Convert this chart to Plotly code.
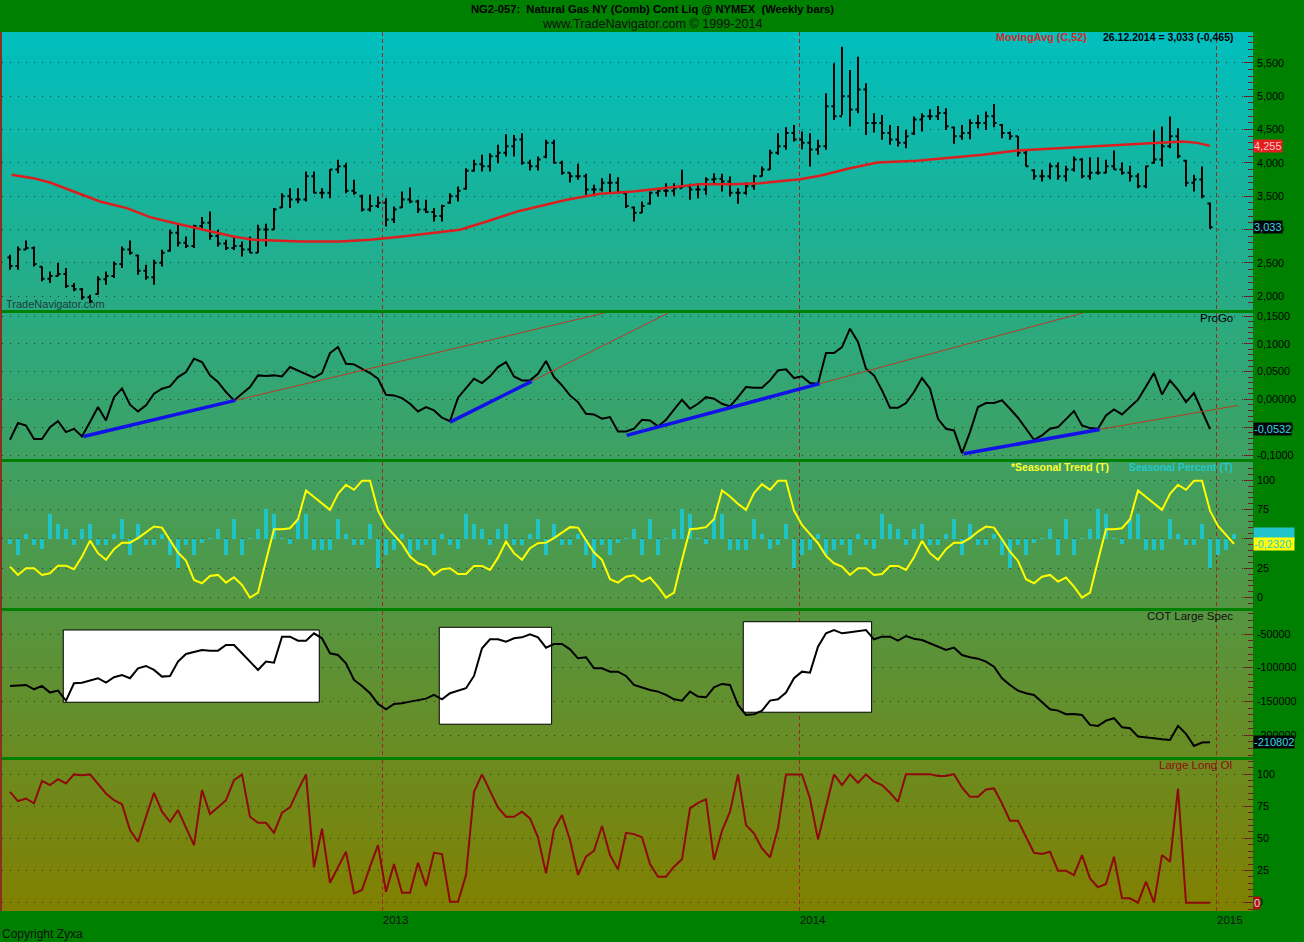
import plotly.graph_objects as go
from datetime import datetime, timedelta

# ---------------- data ----------------
FIRST_WEEK = datetime(2012, 2, 10)   # first weekly bar; last bar = 26.12.2014

highs = [2620,2745,2835,2745,2445,2370,2495,2420,2195,2120,
         2020,2295,2370,2520,2745,2835,2620,2470,2545,2695,
         2995,3070,2895,3070,3185,3270,2995,2845,2895,2820,
         2895,3070,3085,3320,3545,3620,3620,3870,3870,3620,
         3905,4045,3995,3745,3520,3520,3495,3470,3345,3570,
         3630,3445,3445,3320,3370,3545,3645,3920,4045,4120,
         4145,4270,4430,4420,4445,4045,4095,4345,4345,4030,
         3855,3985,3835,3670,3770,3835,3785,3555,3345,3420,
         3570,3620,3695,3695,3895,3685,3695,3785,3845,3835,
         3795,3620,3705,3820,3945,4195,4445,4535,4570,4470,
         4445,4345,5045,5495,5745,5395,5595,5195,4745,4720,
         4570,4555,4495,4695,4745,4805,4855,4820,4545,4570,
         4655,4720,4770,4885,4585,4470,4405,4195,3905,3895,
         3995,4005,3955,4095,4070,4085,4085,4045,4185,4005,
         3955,3845,3955,4485,4545,4695,4520,4045,3820,3945,
         3405]
lows = [2395,2395,2695,2445,2220,2195,2295,2120,2070,1945,
        1895,2020,2170,2270,2420,2620,2320,2245,2170,2445,
        2670,2745,2720,2720,2995,2845,2745,2690,2690,2595,
        2645,2645,2745,2995,3320,3320,3395,3420,3545,3470,
        3470,3845,3545,3520,3270,3270,3320,3045,3095,3320,
        3395,3245,3245,3120,3120,3385,3420,3595,3870,3870,
        3870,3995,4095,4095,3970,3885,3885,4070,3985,3820,
        3705,3745,3520,3520,3570,3535,3555,3320,3120,3245,
        3370,3495,3495,3505,3620,3445,3470,3520,3670,3570,
        3495,3385,3520,3595,3795,3895,4120,4195,4320,4205,
        3945,4120,4195,4645,4720,4545,4745,4420,4455,4345,
        4270,4245,4220,4420,4470,4645,4645,4495,4285,4345,
        4355,4520,4495,4535,4370,4345,4095,3945,3745,3720,
        3755,3745,3720,3870,3770,3745,3820,3845,3895,3820,
        3720,3620,3620,3985,3945,4220,4070,3645,3570,3470,
        3010]
opens = [2580,2450,2700,2720,2440,2260,2300,2330,2150,2100,
         1980,2030,2250,2300,2480,2700,2610,2380,2280,2500,
         2680,2950,2800,2750,3050,3100,2900,2790,2720,2750,
         2700,2650,3000,3000,3330,3500,3450,3450,3800,3550,
         3550,3900,3950,3580,3500,3300,3350,3400,3150,3330,
         3450,3420,3300,3260,3200,3400,3500,3610,3880,3980,
         3950,4100,4150,4250,4350,4000,3950,4090,4300,4000,
         3850,3800,3800,3600,3600,3700,3700,3540,3330,3250,
         3390,3550,3580,3580,3620,3650,3600,3600,3750,3760,
         3720,3550,3550,3650,3800,3900,4150,4250,4450,4350,
         4300,4200,4250,4850,4700,5000,4800,5100,4600,4600,
         4450,4350,4300,4440,4650,4700,4700,4750,4530,4400,
         4450,4600,4600,4700,4570,4450,4400,4150,3890,3800,
         3800,3950,3800,3900,4050,3800,3850,3850,3950,3900,
         3850,3800,3650,4000,4050,4250,4400,4030,3700,3750,
         3390]
closes = [2450,2700,2720,2480,2260,2300,2330,2150,2100,1980,
          1920,2250,2300,2480,2700,2650,2380,2280,2500,2650,
          2950,2800,2750,3050,3100,2900,2790,2720,2750,2700,
          2650,3000,3000,3300,3500,3450,3450,3800,3550,3550,
          3900,3950,3580,3550,3300,3350,3400,3150,3300,3450,
          3420,3300,3260,3200,3350,3500,3580,3880,3980,3950,
          4100,4150,4250,4350,4000,3950,4050,4300,4000,3850,
          3800,3800,3600,3600,3700,3700,3560,3350,3250,3350,
          3550,3580,3580,3620,3650,3600,3600,3750,3760,3720,
          3550,3550,3650,3800,3900,4150,4250,4450,4350,4300,
          4200,4250,4850,4700,5000,4800,5100,4600,4600,4450,
          4350,4300,4400,4650,4700,4700,4750,4550,4400,4450,
          4600,4600,4700,4600,4450,4400,4150,3950,3800,3800,
          3950,3800,3900,4050,3800,3850,3850,3950,3900,3850,
          3800,3650,3950,4050,4250,4400,4100,3700,3750,3500,
          3033]

# 52-week moving average, read at sampled bars (bar index, value)
ma_idx = [0.2, 2.9, 5, 8.4, 11.25, 14.6, 17.5, 20.9, 23.75, 27.9, 30.4, 36.25, 41.25, 45,
          48.75, 55, 56.25, 59.6, 63.4, 69.6, 73.75, 77.9, 82.1, 86.25, 90.4, 93.75, 98.75,
          101.25, 105, 108.4, 113.4, 117.5, 121.6, 125.9, 130, 134.1, 138.4, 142.5, 146.6,
          148.4, 150]
ma_val = [3820, 3770, 3705, 3555, 3420, 3320, 3185, 3085, 3005, 2895, 2845, 2820, 2820, 2845,
          2890, 2970, 2995, 3120, 3270, 3445, 3535, 3570, 3630, 3680, 3680, 3695, 3755,
          3805, 3920, 4005, 4030, 4070, 4120, 4185, 4210, 4245, 4270, 4285, 4320,
          4300, 4255]

progo = [-0.0726,-0.0426,-0.047,-0.0714,-0.0714,-0.0498,-0.039,-0.0588,-0.053,-0.0666,
         -0.0408,-0.0138,-0.0378,0.004,0.0198,-0.0096,-0.0216,-0.0108,0.0102,0.0192,
         0.0234,0.0402,0.0492,0.0732,0.0672,0.0432,0.0312,0.0132,-0.0018,0.0102,
         0.0222,0.0432,0.042,0.0432,0.0414,0.0582,0.0522,0.045,0.039,0.0474,
         0.0834,0.0942,0.0642,0.063,0.0552,0.0474,0.0372,0.0084,0.0072,0.0024,
         -0.0078,-0.0216,-0.0138,-0.0198,-0.033,-0.039,0.003,0.0192,0.0372,0.0294,
         0.0414,0.0582,0.0672,0.0414,0.0342,0.0342,0.0462,0.069,0.0402,0.0252,
         0.0072,-0.0048,-0.0258,-0.027,-0.0348,-0.0318,-0.0576,-0.0576,-0.0528,-0.0366,
         -0.0378,-0.0486,-0.0366,-0.0186,-0.0006,-0.0168,-0.0078,0.004,0.0012,-0.0078,
         -0.0126,0.004,0.0222,0.021,0.021,0.0342,0.0522,0.054,0.0384,0.0414,
         0.0294,0.0282,0.0834,0.0834,0.0942,0.1272,0.1032,0.0552,0.0432,0.0162,
         -0.015,-0.015,-0.0066,0.0132,0.0384,0.0192,-0.0348,-0.0528,-0.0558,-0.0966,
         -0.0588,-0.0138,-0.0066,-0.0066,-0.0018,-0.0168,-0.033,-0.0528,-0.0726,-0.0648,
         -0.0528,-0.0498,-0.0348,-0.021,-0.0468,-0.0516,-0.0528,-0.0288,-0.018,-0.027,
         -0.0138,-0.0006,0.0234,0.0474,0.009,0.0342,0.0174,-0.0048,0.0114,-0.0198,
         -0.0532]

# ProGo trendlines (bar index, value): blue segment start/end, thin red extension end
trend_start_idx = [9.17, 55.0, 77.08, 119.2]
trend_start_val = [-0.0666, -0.0408, -0.0648, -0.0977]
trend_end_idx = [28.17, 65.2, 101.2, 136.2]
trend_end_val = [-0.0018, 0.0324, 0.0283, -0.054]
ext_end_idx = [74.3, 82.3, 134.1, 153.5]
ext_end_val = [0.1554, 0.1554, 0.1554, -0.0108]

seasonal_trend = [26.4,19.4,25.1,25.1,19.4,20.8,27.3,27.3,24.2,35,
                  48.6,37.9,32.2,41.3,46.9,46.9,50.7,55.5,60.6,59.7,
                  49.2,38.4,31.6,15.1,12.3,18.5,19.4,12.8,17.4,10.8,
                  0,4.3,31.6,58.4,58.4,59.2,66.9,91.3,85.7,79.9,
                  74.8,88.5,96.2,91.9,99.6,99.6,74.2,61.2,53.5,45.8,
                  35,29.3,27,19.4,24.2,25.1,20.2,20.2,27,27,
                  23.6,34.1,47.8,37.9,32.2,42.1,46.4,46.9,50.7,55.5,
                  60.1,59.7,49.2,38.4,32.2,15.7,12.8,17.9,19.1,13.7,
                  17.1,9.4,0,4.3,32.2,58.4,58.9,60.1,66.9,91.3,
                  86.2,79.9,74.8,89.1,96.7,91.9,99.6,99.6,74.2,62,
                  54.1,46.4,35.6,29.3,26.4,19.4,25.1,25.1,19.4,20.2,
                  27,27,23.6,34.5,48.4,37.9,32.2,41.3,46.9,46.9,
                  50.7,56.3,60.6,59.7,49.8,39.2,31.3,15.7,12.3,17.9,
                  19.4,13.7,17.1,9.4,0,4.3,31.6,58.4,58.4,59.2,
                  66.9,91.3,85.7,79.9,74.8,88.5,96.2,91.9,99.6,99.6,
                  74.2,61.2,53.5,45.8]

# Seasonal Percent bars, height relative to the panel's 50 line
seasonal_percent = [
    -4.3,-13.3,4.3,-4.8,-8.5,21.6,13.1,8.5,-4.8,8.5,13.1,-4.8,-4.8,4.3,17.3,-13.3,13.1,-4.8,-4.8,4.3,
    -13.3,-24.7,-4.8,-13.3,-3.4,0.6,8.5,-13.3,17.3,-13.3,0.6,8.5,25.8,21.6,0.6,-4.3,17.3,21.6,-9.1,-9.1,
    -9.1,17.3,4.3,-4.8,-4.8,13.1,-24.7,-13.3,-9.1,4.3,-13.3,-9.1,
    -4.8,-13.3,4.3,-4.8,-8.5,21.6,13.1,8.5,-4.8,8.5,13.1,-4.8,-4.8,4.3,17.3,-13.3,13.1,-4.8,-4.8,4.3,
    -13.3,-24.7,-4.8,-13.3,-3.4,0.6,8.5,-13.3,17.3,-13.3,0.6,8.5,25.8,21.6,0.6,-4.3,17.3,21.6,-9.1,-9.1,
    -9.1,17.3,4.3,-8.5,-4.8,13.1,-24.7,-13.3,-9.1,4.3,-13.3,-9.1,
    -4.8,-13.3,4.3,-4.8,-8.5,21.6,13.1,8.5,-4.8,8.5,13.1,-4.8,-4.8,4.3,17.3,-13.3,13.1,-4.8,-4.8,4.3,
    -13.3,-24.7,-4.8,-13.3,-3.4,0.6,8.5,-13.3,17.3,-13.3,0.6,8.5,25.8,21.6,0.6,-4.3,17.3,21.6,-9.1,-9.1,
    -9.1,17.3,4.3,-4.8,-4.8,13.1,-24.7,-13.3,-9.1,4.3]

cot_large_spec = [-127150,-126400,-125700,-132100,-127150,-137000,-134100,-148950,-123150,-122250,
                  -119300,-115700,-122250,-114250,-110830,-115700,-100900,-97480,-103400,-113300,
                  -112300,-91000,-79670,-76200,-73740,-74730,-74730,-66320,-66320,-78660,
                  -91000,-103400,-91000,-92520,-53960,-53960,-59900,-59900,-48960,-56400,
                  -78660,-81160,-93510,-118250,-127150,-137990,-153860,-161770,-153860,-152830,
                  -150450,-147920,-145960,-140500,-146940,-137990,-134100,-130560,-112300,-71270,
                  -57910,-57910,-61370,-56400,-54950,-50490,-54950,-70270,-64840,-64840,
                  -72740,-86100,-84570,-100900,-100900,-105900,-105900,-112300,-125670,-129650,
                  -133090,-135560,-140500,-146940,-148950,-135560,-143000,-143960,-129150,-124180,
                  -125670,-155340,-170180,-169140,-163800,-148950,-146940,-137000,-115700,-105900,
                  -107390,-68800,-48960,-44070,-48960,-47480,-45550,-44070,-57910,-53960,
                  -53960,-59900,-52970,-56930,-58900,-63800,-69730,-73740,-70270,-81160,
                  -84570,-86600,-91000,-98500,-115700,-125670,-134100,-137990,-140500,-151900,
                  -161770,-163800,-169140,-168700,-170180,-185010,-186500,-178640,-175070,-188430,
                  -189920,-202400,-203270,-204760,-206250,-207270,-186500,-198370,-216170,-211270,
                  -210802]

# highlighted COT stretches (bar index from/to, value top/bottom)
box_from_idx = [6.66, 53.66, 91.66]
box_to_idx = [38.66, 67.7, 107.7]
box_top = [-44065, -40060, -31750]
box_bottom = [-151330, -183980, -166170]

large_long_oi = [86.2,79,81,77.2,94.7,91.4,96,92.7,99.7,99.1,
                 99.7,92.7,84.9,79.7,76.6,56.4,47.4,66.8,85.4,70.7,
                 62.9,72,57.8,44.8,87.5,68.9,74.1,79.7,95.3,99.7,
                 66.8,62.1,62.1,54.3,69.9,74.1,87.5,99.7,27.5,57.5,
                 15.5,28,39.6,7.3,9.9,28,44.8,8.5,30,7.8,
                 7.8,31.1,13,38.8,37.8,0.8,0.8,21.5,86.2,99.7,
                 87.5,74.1,66.8,66.8,70.7,65.5,50.8,22.8,57,68.1,
                 48.7,21.5,35.7,40.4,59.6,37,25.9,54.3,53.3,50.8,
                 30,20.2,20.2,28,33.7,73.3,77.6,80.5,33.2,55.9,
                 70.7,99.7,60.3,53.9,42.2,35.2,57.8,99.7,99.7,99.7,
                 81,49.2,74.5,99.7,91.4,99.7,93.2,99.7,94,91.4,
                 85.4,78.4,99.9,99.9,99.9,99.9,98.4,98.4,99.9,89.6,
                 82.3,82.3,88,88.8,77.2,63.7,63.7,51.2,38.8,37.8,
                 39.6,24.8,24.8,21.5,37,18.9,12,14.5,35.7,3.4,
                 3.4,0,16.3,0,37,31.8,88.7,0,0,0,
                 0]

year_ticks = ["2013-01-01", "2014-01-01", "2015-01-01"]
year_labels = ["2013", "2014", "2015"]

p1_ticks = [2000, 2500, 3000, 3500, 4000, 4500, 5000, 5500]
p1_labels = ["2,000", "2,500", "3,000", "3,500", "4,000", "4,500", "5,000", "5,500"]
p2_ticks = [-0.1, -0.05, 0.0, 0.05, 0.1, 0.15]
p2_labels = ["-0,1000", "-0,0500", "0,00000", "0,0500", "0,1000", "0,1500"]
p3_ticks = [0, 25, 50, 75, 100]
p3_labels = ["0", "25", "50", "75", "100"]
p4_ticks = [-200000, -150000, -100000, -50000]
p4_labels = ["-200000", "-150000", "-100000", "-50000"]
p5_ticks = [0, 25, 50, 75, 100]
p5_labels = ["0", "25", "50", "75", "100"]


def wk(i):
    return (FIRST_WEEK + timedelta(days=7 * i)).strftime("%Y-%m-%d %H:%M:%S")


bar_dates = [wk(i) for i in range(len(closes))]
seas_dates = [wk(i) for i in range(len(seasonal_trend))]

# ---------------- geometry / style ----------------
W, H = 1304, 942
L, R, T, B = 2, 51, 32, 31
PH = H - T - B  # 879


def py(ypx):
    return (H - B - ypx) / PH


def px(xpx):
    return (xpx - L) / (W - L - R)


panels = [(32, 310), (313, 459), (462, 608), (611, 757), (760, 911)]
domains = [[py(b), py(t)] for t, b in panels]
domains[0][1] = 1.0
domains[4][0] = 0.0

FONT = "Liberation Sans, Arial, sans-serif"
GREEN = "#008000"
TICKC = "#6a2020"
GRIDC = "rgba(35,35,35,0.85)"

fig = go.Figure()

# Panel 1: price bars + moving average
fig.add_trace(go.Ohlc(x=bar_dates, open=opens, high=highs, low=lows, close=closes,
                      increasing=dict(line=dict(color="black", width=2)),
                      decreasing=dict(line=dict(color="black", width=2)),
                      tickwidth=0.32, xaxis="x", yaxis="y", showlegend=False, hoverinfo="skip"))
fig.add_trace(go.Scatter(x=[wk(i) for i in ma_idx], y=ma_val, mode="lines",
                         line=dict(color="#DC1E1E", width=2.5), xaxis="x", yaxis="y",
                         showlegend=False, hoverinfo="skip"))

# Panel 2: ProGo
fig.add_trace(go.Scatter(x=bar_dates, y=progo, mode="lines", line=dict(color="black", width=2),
                         xaxis="x2", yaxis="y2", showlegend=False, hoverinfo="skip"))
for k in range(len(trend_start_idx)):
    fig.add_trace(go.Scatter(x=[wk(trend_end_idx[k]), wk(ext_end_idx[k])],
                             y=[trend_end_val[k], ext_end_val[k]], mode="lines",
                             line=dict(color="#B83A26", width=1), xaxis="x2", yaxis="y2",
                             showlegend=False, hoverinfo="skip"))
    fig.add_trace(go.Scatter(x=[wk(trend_start_idx[k]), wk(trend_end_idx[k])],
                             y=[trend_start_val[k], trend_end_val[k]], mode="lines",
                             line=dict(color="#1212E8", width=3.5), xaxis="x2", yaxis="y2",
                             showlegend=False, hoverinfo="skip"))

# Panel 3: seasonal percent (bars around 50) + seasonal trend
fig.add_trace(go.Bar(x=seas_dates, y=seasonal_percent, base=50, width=3.6 * 86400000,
                     marker=dict(color="#20C3C6", line=dict(width=0)),
                     xaxis="x3", yaxis="y3", showlegend=False, hoverinfo="skip"))
fig.add_trace(go.Scatter(x=seas_dates, y=seasonal_trend, mode="lines",
                         line=dict(color="#FFFF00", width=2), xaxis="x3", yaxis="y3",
                         showlegend=False, hoverinfo="skip"))

# Panel 4: COT large spec
fig.add_trace(go.Scatter(x=bar_dates, y=cot_large_spec, mode="lines",
                         line=dict(color="black", width=2), xaxis="x4", yaxis="y4",
                         showlegend=False, hoverinfo="skip"))

# Panel 5: Large Long OI
fig.add_trace(go.Scatter(x=bar_dates, y=large_long_oi, mode="lines",
                         line=dict(color="#8E0A0A", width=2), xaxis="x5", yaxis="y5",
                         showlegend=False, hoverinfo="skip"))

# ---------------- shapes ----------------
shapes = []
c_top = (0, 191, 191)
c_bot = (129, 128, 0)
for (t, b) in panels:
    y = t
    while y < b:
        y2 = min(y + 5, b)
        f = ((y + y2) / 2 - 32) / (911 - 32)
        col = "rgb(%d,%d,%d)" % tuple(round(c_top[j] + (c_bot[j] - c_top[j]) * f) for j in range(3))
        shapes.append(dict(type="rect", xref="paper", yref="paper", x0=0, x1=1,
                           y0=py(min(y2 + 1, b)), y1=py(y), fillcolor=col,
                           line=dict(width=0), layer="below"))
        y = y2
# left brown border line
shapes.append(dict(type="line", xref="paper", yref="paper", x0=px(1), x1=px(1), y0=0, y1=1,
                   line=dict(color="#8A3020", width=2), layer="above"))
# white highlight boxes in COT panel
for k in range(len(box_from_idx)):
    shapes.append(dict(type="rect", xref="x4", yref="y4", x0=wk(box_from_idx[k]),
                       x1=wk(box_to_idx[k]), y0=box_bottom[k], y1=box_top[k],
                       fillcolor="white", line=dict(color="black", width=1), layer="between"))

# ---------------- axes ----------------
xr = [wk(-1), wk(155.375)]
y_ranges = [[1790, 5965], [-0.1072, 0.1554], [-8.8, 115.6], [-232670, -15845], [-6.45, 110.9]]
tick_sets = [(p1_ticks, p1_labels, 100), (p2_ticks, p2_labels, 0.01), (p3_ticks, p3_labels, 5),
             (p4_ticks, p4_labels, 10000), (p5_ticks, p5_labels, 5)]

layout = dict(width=W, height=H, margin=dict(l=L, r=R, t=T, b=B),
              paper_bgcolor=GREEN, plot_bgcolor="rgba(0,0,0,0)", showlegend=False,
              bargap=0, font=dict(family=FONT, size=11, color="black"), shapes=shapes)

for n in range(1, 6):
    sfx = "" if n == 1 else str(n)
    xa = dict(type="date", range=xr, domain=[0, 1], anchor="y" + sfx,
              tickmode="array", tickvals=year_ticks, ticktext=year_labels,
              showgrid=True, gridcolor="#9E2828", gridwidth=1, griddash="4px,3px",
              ticks="", showline=False, zeroline=False, showticklabels=(n == 5),
              tickfont=dict(family=FONT, size=11.5, color="#111111"),
              ticklabelshift=13, ticklabelstandoff=0, fixedrange=True)
    if n > 1:
        xa["matches"] = "x"
    else:
        xa["rangeslider"] = dict(visible=False)
    layout["xaxis" + sfx] = xa
    tv, tt, mdt = tick_sets[n - 1]
    layout["yaxis" + sfx] = dict(domain=domains[n - 1], range=y_ranges[n - 1], anchor="x" + sfx,
                                 side="right", tickmode="array", tickvals=tv, ticktext=tt,
                                 ticks="inside", ticklen=9, tickwidth=1, tickcolor=TICKC,
                                 minor=dict(ticks="inside", ticklen=5, tickwidth=1, tickcolor=TICKC,
                                            dtick=mdt, tick0=0, showgrid=False),
                                 showgrid=True, gridcolor=GRIDC, gridwidth=1, griddash="1px,7px",
                                 zeroline=False, showline=False, fixedrange=True,
                                 tickfont=dict(family=FONT, size=10.8, color="black"),
                                 ticklabelstandoff=3)

# ---------------- annotations ----------------
ann = []


def text_ann(txt, xpx, ypx, anchor="left", size=11, color="black", bold=False):
    if bold:
        txt = "<b>" + txt + "</b>"
    ann.append(dict(text=txt, xref="paper", yref="paper", x=px(xpx), y=py(ypx),
                    xanchor=anchor, yanchor="middle", showarrow=False,
                    font=dict(family=FONT, size=size, color=color)))


text_ann("NG2-057:  Natural Gas NY (Comb) Cont Liq @ NYMEX  (Weekly bars)", 652, 9,
         anchor="center", size=11.2, bold=True)
text_ann("www.TradeNavigator.com \u00a9 1999-2014", 652, 24, anchor="center", size=12.6, color="#111111")
text_ann("MovingAvg (C,52)", 1089, 37, anchor="right", size=10.8, color="#D42A2A", bold=True)
text_ann("26.12.2014 = 3,033 (-0,465)", 1235, 37, anchor="right", size=10.5, bold=True)
text_ann("TradeNavigator.com", 4, 304, anchor="left", size=11, color="#1E3C3C")
text_ann("ProGo", 1235, 318, anchor="right", size=11.5)
text_ann("*Seasonal Trend (T)", 1111, 467, anchor="right", size=10.5, color="#FFFF30", bold=True)
text_ann("Seasonal Percent (T)", 1235, 467, anchor="right", size=10.5, color="#22C8CC", bold=True)
text_ann("COT Large Spec", 1235, 616, anchor="right", size=11.5, color="#111111")
text_ann("Large Long OI", 1235, 765, anchor="right", size=11.5, color="#8E1010")
text_ann("Copyright Zyxa", 0, 934, anchor="left", size=12, color="#111111")


def value_box(txt, yref, yval, bg, fg, width=None):
    a = dict(text=txt, xref="paper", yref=yref, x=1.0, y=yval, xanchor="left",
             yanchor="middle", showarrow=False, bgcolor=bg, borderpad=0,
             font=dict(family=FONT, size=11, color=fg))
    if width:
        a["width"] = width
        a["align"] = "left"
    ann.append(a)


value_box("4,255", "y", ma_val[-1], "#E41E1E", "#F4C8C8")
value_box("3,033", "y", closes[-1], "#050505", "#30D8E8")
value_box("-0,0532", "y2", progo[-1], "#050505", "#30D8E8")
value_box(" ", "y3", 50 + seasonal_percent[-1], "#22C4CC", "#22C4CC", width=40)
value_box("-0,2320", "y3", seasonal_trend[-1], "#FFFF00", "#30C8D0", width=40)
value_box("-210802", "y4", cot_large_spec[-1], "#050505", "#30D8E8")
value_box("0", "y5", large_long_oi[-1], "#B01010", "#D8D8D8")

layout["annotations"] = ann
fig.update_layout(**layout)

fig.write_html("out.html", config={"displayModeBar": False},
               post_script="document.body.style.margin='0px';document.body.style.padding='0px';"
                           "document.body.style.overflow='hidden';")
